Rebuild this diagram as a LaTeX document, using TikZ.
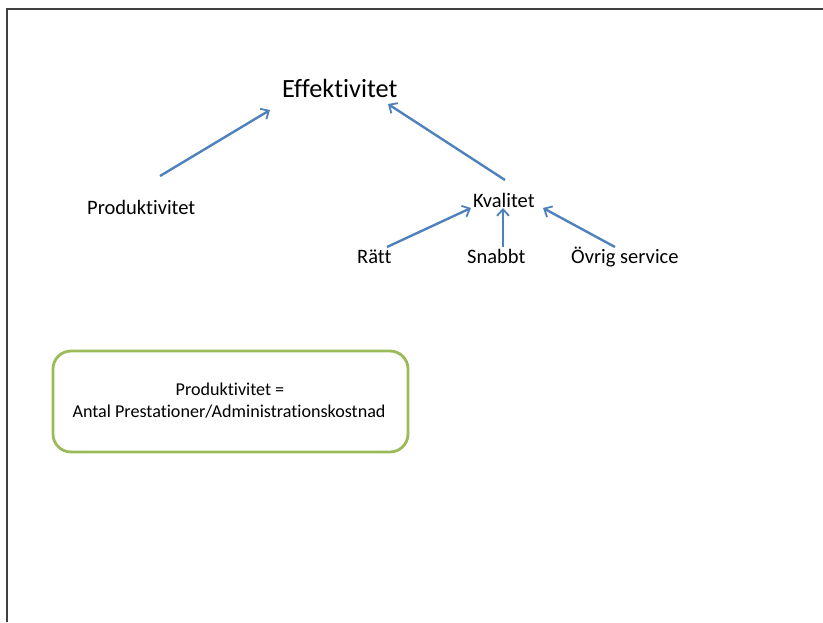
\documentclass[tikz,border=0pt]{standalone}
\usepackage{fontspec}
\setmainfont{Carlito}[Ligatures=NoCommon]
\usetikzlibrary{arrows.meta}
\definecolor{ablue}{HTML}{4F81BD}
\definecolor{agreen}{HTML}{9BBB59}
\definecolor{frame}{HTML}{404040}
\begin{document}
\begin{tikzpicture}[x=1pt,y=-1pt,
  lbl/.style={inner sep=0pt,anchor=base west},
  midtxt/.style={inner sep=0pt,anchor=base,font=\fontsize{18.1}{22}\selectfont},
  conn/.style={draw=ablue,line width=2.4pt,-{Straight Barb[length=6.5pt,width=12pt,line width=1.8pt]}},
  formbox/.style={draw=agreen,line width=2.8pt,rounded corners=18pt}]
\useasboundingbox (0,0) rectangle (823,622);
\draw[frame,line width=2pt] (7,622) -- (7,9) -- (823,9);
% labels
\node[lbl,font=\fontsize{26.3}{30}\selectfont] (eff) at (282,97) {Effektivitet};
\node[lbl,font=\fontsize{20.5}{24}\selectfont] (prod) at (87,214) {Produktivitet};
\node[lbl,font=\fontsize{20.5}{24}\selectfont] (kval) at (473,207) {Kvalitet};
\node[lbl,font=\fontsize{20.5}{24}\selectfont] (ratt) at (357,263) {Rätt};
\node[lbl,font=\fontsize{20.5}{24}\selectfont] (snabbt) at (467,263) {Snabbt};
\node[lbl,font=\fontsize{20.5}{24}\selectfont] (ovrig) at (571,263) {Övrig service};
% formula box
\draw[formbox] (53,351) rectangle (408,452);
\node[midtxt] (formel1) at (230,395) {Produktivitet =};
\node[midtxt] (formel2) at (229,417) {Antal Prestationer/Administrationskostnad};
% connector endpoints
\coordinate (p1) at (160,176);
\coordinate (e1) at (270,110);
\coordinate (k0) at (505,180);
\coordinate (e2) at (388,104);
\coordinate (r0) at (387,247);
\coordinate (k1) at (471,208);
\coordinate (s0) at (503,247);
\coordinate (k2) at (503,208);
\coordinate (o0) at (615,247);
\coordinate (k3) at (543,208);
\draw[conn] (p1) -- (e1);
\draw[conn] (k0) -- (e2);
\draw[conn] (r0) -- (k1);
\draw[conn] (s0) -- (k2);
\draw[conn] (o0) -- (k3);
\end{tikzpicture}
\end{document}
